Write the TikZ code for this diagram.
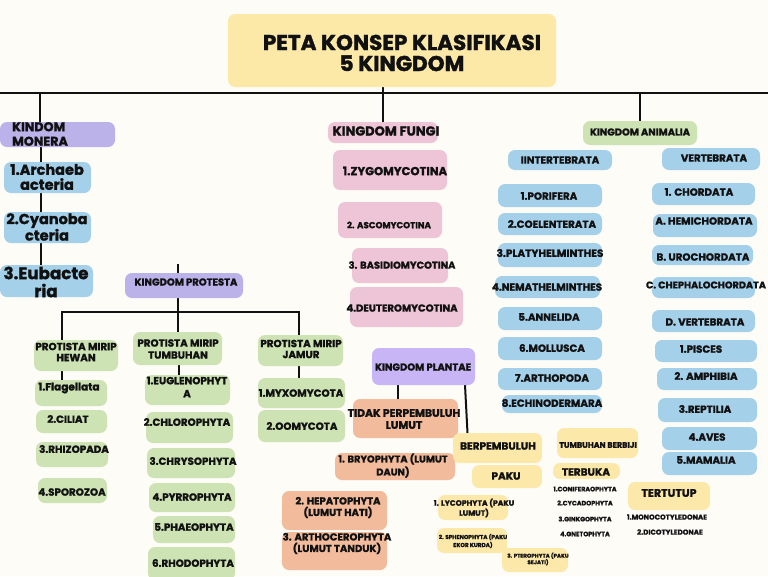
\documentclass[tikz,border=0pt]{standalone}
\usepackage{fontspec}
\setmainfont{Poppins}[BoldFeatures={FakeBold=1.5}]
\pgfdeclarelayer{bgfill}
\pgfdeclarelayer{background}
\pgfsetlayers{bgfill,background,main}
\definecolor{bgc}{HTML}{FDFCF7}
\definecolor{ttl}{HTML}{FCE9A8}
\definecolor{pur}{HTML}{BBB2EA}
\definecolor{pur2}{HTML}{C8B5F5}
\definecolor{blu}{HTML}{A4D0EA}
\definecolor{grn}{HTML}{CDE3B4}
\definecolor{pnk}{HTML}{EEC5D6}
\definecolor{org}{HTML}{F1BB9C}
\definecolor{yel}{HTML}{FCE8A9}
\definecolor{ink}{HTML}{111111}
\tikzset{
  blob/.style={draw=none, rounded corners=7pt, inner sep=0pt, outer sep=0pt},
  txt/.style={align=center, inner sep=0pt, text=ink},
  link/.style={line width=2pt, ink},
}
\newcommand\bx[6]{\node[blob, fill=#6, minimum width={(#4)-(#2)}, minimum height={(#5)-(#3)}] (#1) at ({((#2)+(#4))/2},{((#3)+(#5))/2}) {};}
\newcommand\tx[6]{\node[txt, font={\fontsize{#4}{#5}\selectfont\bfseries}] (#1) at (#2,#3) {#6};}
\begin{document}
\begin{tikzpicture}[x=1pt,y=-1pt]
\useasboundingbox (0,0) rectangle (768,576);
\begin{pgfonlayer}{bgfill}
\fill[bgc] (0,0) rectangle (768,576);
\end{pgfonlayer}
% title
\bx{title}{228}{14}{556}{87}{ttl}
\tx{titlet}{402}{53}{21.5}{21}{PETA KONSEP KLASIFIKASI\\5 KINGDOM}
% Monera
\bx{monera}{0}{122}{115}{147}{pur}
\node[txt, align=left, anchor=west, font={\fontsize{12.7}{14.5}\selectfont\bfseries}] (monerat) at (12,134) {KINDOM\\MONERA};
\bx{arch}{4}{162}{91}{193}{blu}
\tx{archt}{47}{177}{14.5}{15}{1.Archaeb\\acteria}
\bx{cyano}{4}{212}{91}{243}{blu}
\tx{cyanot}{47}{227}{14.5}{15}{2.Cyanoba\\cteria}
\bx{eub}{0}{265}{93}{297}{blu}
\tx{eubt}{46}{282}{16.7}{18}{3.Eubacte\\ria}
% Protesta
\bx{protesta}{125}{273}{243}{298}{pur}
\tx{protestat}{186}{282}{10}{10}{KINGDOM PROTESTA}
\bx{hewan}{34}{340}{118}{371}{grn}
\tx{hewant}{76}{352}{10.3}{11}{PROTISTA MIRIP\\HEWAN}
\bx{flag}{35}{380}{107}{406}{grn}
\tx{flagt}{69}{388}{10.5}{10}{1.Flagellata}
\bx{cil}{36}{410}{107}{433}{grn}
\tx{cilt}{68}{419}{10.3}{10}{2.CILIAT}
\bx{rhiz}{36}{442}{108}{467}{grn}
\tx{rhizt}{74}{449}{10.3}{10}{3.RHIZOPADA}
\bx{spor}{38}{478}{107}{503}{grn}
\tx{sport}{72}{492}{10.3}{10}{4.SPOROZOA}
\bx{tumb}{133}{332}{222}{365}{grn}
\tx{tumbt}{178}{349}{10.3}{12}{PROTISTA MIRIP\\TUMBUHAN}
\bx{eug}{145}{375}{230}{405}{grn}
\tx{eugt}{187}{387}{10.3}{13}{1.EUGLENOPHYT\\A}
\bx{chl}{146}{412}{233}{443}{grn}
\tx{chlt}{187}{422}{10.3}{10}{2.CHLOROPHYTA}
\bx{chr}{147}{448}{235}{478}{grn}
\tx{chrt}{193}{461}{10.3}{10}{3.CHRYSOPHYTA}
\bx{pyr}{149}{483}{235}{512}{grn}
\tx{pyrt}{192}{497}{10.3}{10}{4.PYRROPHYTA}
\bx{pha}{153}{516}{235}{543}{grn}
\tx{phat}{194}{527}{10.3}{10}{5.PHAEOPHYTA}
\bx{rho}{148}{547}{235}{580}{grn}
\tx{rhot}{193}{563}{10.3}{10}{6.RHODOPHYTA}
\bx{jamur}{258}{335}{343}{366}{grn}
\tx{jamurt}{301}{349}{10.3}{11}{PROTISTA MIRIP\\JAMUR}
\bx{myx}{258}{378}{345}{408}{grn}
\tx{myxt}{301}{393}{10.3}{10}{1.MYXOMYCOTA}
\bx{oom}{258}{410}{345}{442}{grn}
\tx{oomt}{302}{426}{10.3}{10}{2.OOMYCOTA}
% Fungi
\bx{fungi}{328}{122}{438}{143}{pnk}
\tx{fungit}{386}{131}{13}{13}{KINGDOM FUNGI}
\bx{zyg}{333}{150}{447}{190}{pnk}
\tx{zygt}{395}{171}{11.6}{11}{1.ZYGOMYCOTINA}
\bx{asc}{338}{202}{442}{238}{pnk}
\tx{asct}{389}{225}{8.8}{10}{2. ASCOMYCOTINA}
\bx{bas}{352}{248}{448}{283}{pnk}
\tx{bast}{402}{265}{9.9}{10}{3. BASIDIOMYCOTINA}
\bx{deu}{350}{287}{463}{327}{pnk}
\tx{deut}{402}{308}{10.1}{10}{4.DEUTEROMYCOTINA}
% Animalia
\bx{animalia}{583}{121}{697}{145}{grn}
\tx{animaliat}{640}{132}{9.9}{10}{KINGDOM ANIMALIA}
\bx{inv}{508}{150}{612}{170}{blu}
\tx{invt}{560}{160}{10.3}{10}{IINTERTEBRATA}
\bx{por}{498}{184}{602}{207}{blu}
\tx{port}{549}{196}{10.3}{10}{1.PORIFERA}
\bx{coe}{498}{213}{602}{235}{blu}
\tx{coet}{552}{224}{10.3}{10}{2.COELENTERATA}
\bx{pla}{498}{243}{602}{267}{blu}
\tx{plat}{550}{253}{10.5}{10}{3.PLATYHELMINTHES}
\bx{nem}{495}{276}{600}{298}{blu}
\tx{nemt}{547}{287}{10.3}{10}{4.NEMATHELMINTHES}
\bx{ann}{498}{307}{602}{330}{blu}
\tx{annt}{549}{317}{10.3}{10}{5.ANNELIDA}
\bx{mol}{498}{337}{602}{360}{blu}
\tx{molt}{552}{348}{10.3}{10}{6.MOLLUSCA}
\bx{art}{498}{368}{602}{390}{blu}
\tx{artt}{552}{378}{10.3}{10}{7.ARTHOPODA}
\bx{ech}{502}{395}{602}{413}{blu}
\tx{echt}{552}{403}{10.3}{10}{8.ECHINODERMARA}
\bx{vert}{662}{148}{760}{170}{blu}
\tx{vertt}{714}{158}{10.3}{10}{VERTEBRATA}
\bx{cho}{652}{183}{755}{205}{blu}
\tx{chot}{699}{192}{10.3}{10}{1. CHORDATA}
\bx{hem}{653}{214}{757}{237}{blu}
\tx{hemt}{704}{221}{10.3}{10}{A. HEMICHORDATA}
\bx{uro}{652}{245}{753}{265}{blu}
\tx{urot}{703}{257}{10.3}{10}{B. UROCHORDATA}
\bx{cep}{652}{277}{755}{298}{blu}
\tx{cept}{706}{285}{9.7}{10}{C. CHEPHALOCHORDATA}
\bx{dve}{652}{310}{755}{332}{blu}
\tx{dvet}{705}{322}{10.3}{10}{D. VERTEBRATA}
\bx{pis}{655}{340}{757}{362}{blu}
\tx{pist}{701}{349}{10.3}{10}{1.PISCES}
\bx{amp}{657}{368}{757}{390}{blu}
\tx{ampt}{706}{376}{10.3}{10}{2. AMPHIBIA}
\bx{rep}{658}{398}{757}{422}{blu}
\tx{rept}{705}{409}{10.3}{10}{3.REPTILIA}
\bx{ave}{662}{427}{757}{450}{blu}
\tx{avet}{707}{437}{10.3}{10}{4.AVES}
\bx{mam}{662}{452}{757}{475}{blu}
\tx{mamt}{706}{460}{10.3}{10}{5.MAMALIA}
% Plantae
\bx{plantae}{372}{348}{475}{385}{pur2}
\tx{plantaet}{423}{367}{10}{10}{KINGDOM PLANTAE}
\bx{tidak}{353}{399}{458}{438}{org}
\tx{tidakt}{404}{419}{10.8}{12}{TIDAK PERPEMBULUH\\LUMUT}
\bx{bry}{335}{453}{455}{480}{org}
\tx{bryt}{393}{465.5}{9.8}{13}{1. BRYOPHYTA (LUMUT\\DAUN)}
\bx{hep}{282}{491}{387}{530}{org}
\tx{hept}{338}{507.5}{10}{11.5}{2. HEPATOPHYTA\\(LUMUT HATI)}
\bx{ath}{282}{532}{387}{570}{org}
\tx{atht}{337}{543.5}{10.1}{11.5}{3. ARTHOCEROPHYTA\\(LUMUT TANDUK)}
\bx{berp}{453}{433}{542}{463}{yel}
\tx{berpt}{498}{446}{10.5}{11}{BERPEMBULUH}
\bx{paku}{472}{465}{542}{488}{yel}
\tx{pakut}{506}{476}{10.5}{11}{PAKU}
\bx{lyc}{438}{495}{508}{520}{yel}
\tx{lyct}{474}{508}{7.7}{10}{1. LYCOPHYTA (PAKU\\LUMUT)}
\bx{sph}{437}{528}{507}{553}{yel}
\tx{spht}{473}{541}{5.7}{8}{2. SPHENOPHYTA (PAKU\\EKOR KURDA)}
\bx{pte}{502}{548}{568}{572}{yel}
\tx{ptet}{538}{559}{5.5}{6.5}{3. PTEROPHYTA (PAKU\\SEJATI)}
\bx{berbiji}{557}{428}{638}{458}{yel}
\tx{berbijit}{598}{445}{8}{8}{TUMBUHAN BERBIJI}
\bx{terbuka}{553}{463}{620}{479}{yel}
\tx{terbukat}{586}{472}{10.5}{10}{TERBUKA}
\tx{conif}{585}{489}{6.4}{6}{1.CONIFERAOPHYTA}
\tx{cyca}{585}{503}{6.4}{6}{2.CYCADOPHYTA}
\tx{gink}{585}{519}{6.4}{6}{3.GINKGOPHYTA}
\tx{gnet}{585}{534}{6.4}{6}{4.GNETOPHYTA}
\bx{tertutup}{628}{482}{710}{510}{yel}
\tx{tertutupt}{669}{493}{11}{10}{TERTUTUP}
\tx{mono}{667}{517}{7.1}{6}{1.MONOCOTYLEDONAE}
\tx{dico}{670}{532}{7.1}{6}{2.DICOTYLEDONAE}
% connectors
\begin{pgfonlayer}{background}
\coordinate (bl) at (0,93);
\coordinate (br) at (768,93);
\draw[link] (bl) -- (br);
\draw[link] (title.south -| fungi.north) -- (fungi.north);
\coordinate (mx) at (40,0);
\draw[link] (mx |- bl) -- (mx |- monera.north);
\coordinate (mc) at (41,0);
\draw[link] (mc |- monera.south) -- (mc |- eub.north);
\draw[link] (br -| animalia.north) -- (animalia.north);
\coordinate (px) at (178,264);
\draw[link] (px) -- (px |- protesta.north);
\coordinate (pb) at (0,312);
\coordinate (hx) at (62,0);
\coordinate (jx) at (298.5,0);
\draw[link] (px |- protesta.south) -- (px |- pb);
\draw[link] (hx |- hewan.north) -- (hx |- pb) -- (jx |- pb) -- (jx |- jamur.north);
\draw[link] (px |- pb) -- (px |- tumb.north);
\draw[link] (hx |- hewan.south) -- (hx |- flag.north);
\coordinate (tx2) at (179,0);
\draw[link] (tx2 |- tumb.south) -- (tx2 |- eug.north);
\draw[link] (jx |- jamur.south) -- (jx |- myx.north);
\coordinate (plx) at (398,0);
\draw[link] (plx |- plantae.south) -- (plx |- tidak.north);
\coordinate (p2a) at (465,0);
\coordinate (p2b) at (467.5,0);
\draw[link] (p2a |- plantae.south) -- (p2b |- berp.north);
\end{pgfonlayer}
\end{tikzpicture}
\end{document}
